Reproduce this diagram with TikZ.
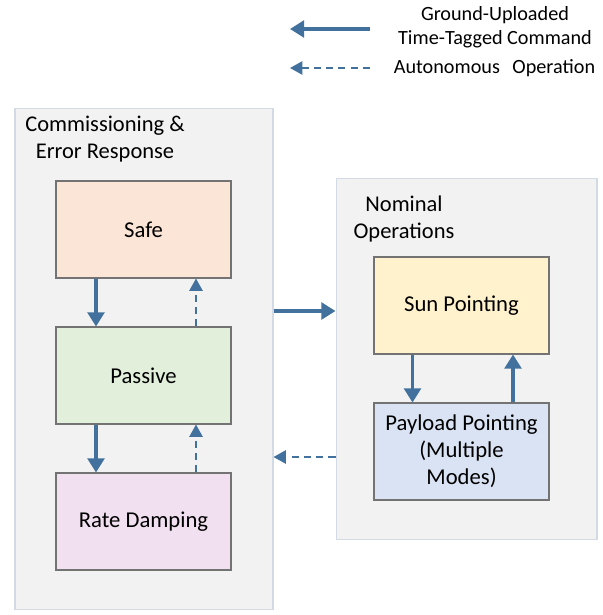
\documentclass[tikz,border=0pt]{standalone}
\usepackage{fontspec}
\setmainfont{Carlito}
\usepackage{xcolor}
\usetikzlibrary{arrows.meta, positioning, calc}

\definecolor{arrowblue}{HTML}{41719C}
\definecolor{panelfill}{HTML}{F2F2F2}
\definecolor{panelline}{HTML}{D3DAE3}
\definecolor{safefill}{HTML}{FBE5D6}
\definecolor{passivefill}{HTML}{E2EFDA}
\definecolor{ratefill}{HTML}{F1E0F0}
\definecolor{sunfill}{HTML}{FFF2CC}
\definecolor{payloadfill}{HTML}{DAE3F3}

\tikzset{
  panel/.style={draw=panelline, fill=panelfill, line width=0.6pt, inner sep=0pt},
  statebox/.style={draw=black!55, line width=0.6pt, minimum width=3.5cm, minimum height=1.94cm,
    align=center, font=\fontsize{12.9}{15.4}\selectfont},
  title/.style={align=center, font=\fontsize{12.8}{15.2}\selectfont},
  cmdarrow/.style={draw=arrowblue, line width=1.8pt, -{Triangle[length=8pt, width=9.5pt]}},
  autoarrow/.style={draw=arrowblue, line width=1pt, dash pattern=on 4pt off 3pt,
    -{Triangle[length=7pt, width=7.5pt]}}
}

\begin{document}
\begin{tikzpicture}[x=0.02cm, y=-0.02cm]
  \useasboundingbox (0,0) rectangle (602,615);

  % Legend
  \coordinate (cmdfrom) at (370,29);
  \coordinate (cmdto) at (290,29);
  \coordinate (autofrom) at (370,68);
  \coordinate (autoto) at (290,68);
  \draw[cmdarrow] (cmdfrom) -- (cmdto);
  \draw[autoarrow] (autofrom) -- (autoto);
  \node[font=\fontsize{11.5}{13.7}\selectfont, align=center] (cmdtext) at (495,27)
    {Ground-Uploaded\\Time-Tagged Command};
  \node[font=\fontsize{11.5}{13.7}\selectfont] (autotext) at (494.5,68)
    {Autonomous\ \ \,Operation};

  % Panels
  \node[panel, minimum width=5.16cm, minimum height=10.04cm] (commpanel) at (144,359) {};
  \node[panel, minimum width=5.22cm, minimum height=7.24cm] (nompanel) at (466.5,359) {};
  \node[title] (commtitle) at (105,139) {Commissioning \&\\Error Response};
  \node[title] (nomtitle) at (404,219) {Nominal\\Operations};

  % States
  \node[statebox, fill=safefill] (safe) at (143.5,229.5) {Safe};
  \node[statebox, fill=passivefill] (passive) at (143.5,375.5) {Passive};
  \node[statebox, fill=ratefill] (rate) at (143.5,521.5) {Rate Damping};
  \node[statebox, fill=sunfill] (sun) at (461.5,305.5) {Sun Pointing};
  \node[statebox, fill=payloadfill] (payload) at (461.5,451.5)
    {Payload Pointing\\(Multiple\\Modes)};

  % Transitions, commissioning
  \draw[cmdarrow] ($(safe.south)+(-47.5,0)$) -- ($(passive.north)+(-47.5,0)$);
  \draw[autoarrow] ($(passive.north)+(52.5,0)$) -- ($(safe.south)+(52.5,0)$);
  \draw[cmdarrow] ($(passive.south)+(-47.5,0)$) -- ($(rate.north)+(-47.5,0)$);
  \draw[autoarrow] ($(rate.north)+(52.5,0)$) -- ($(passive.south)+(52.5,0)$);

  % Transitions, nominal
  \draw[cmdarrow] ($(sun.south)+(-49,0)$) -- ($(payload.north)+(-49,0)$);
  \draw[cmdarrow] ($(payload.north)+(51.5,0)$) -- ($(sun.south)+(51.5,0)$);

  % Between panels
  \draw[cmdarrow] ($(commpanel.east)+(0,-48)$) -- ($(nompanel.west)+(0,-48)$);
  \draw[autoarrow] ($(nompanel.west)+(0,98)$) -- ($(commpanel.east)+(0,98)$);
\end{tikzpicture}
\end{document}
